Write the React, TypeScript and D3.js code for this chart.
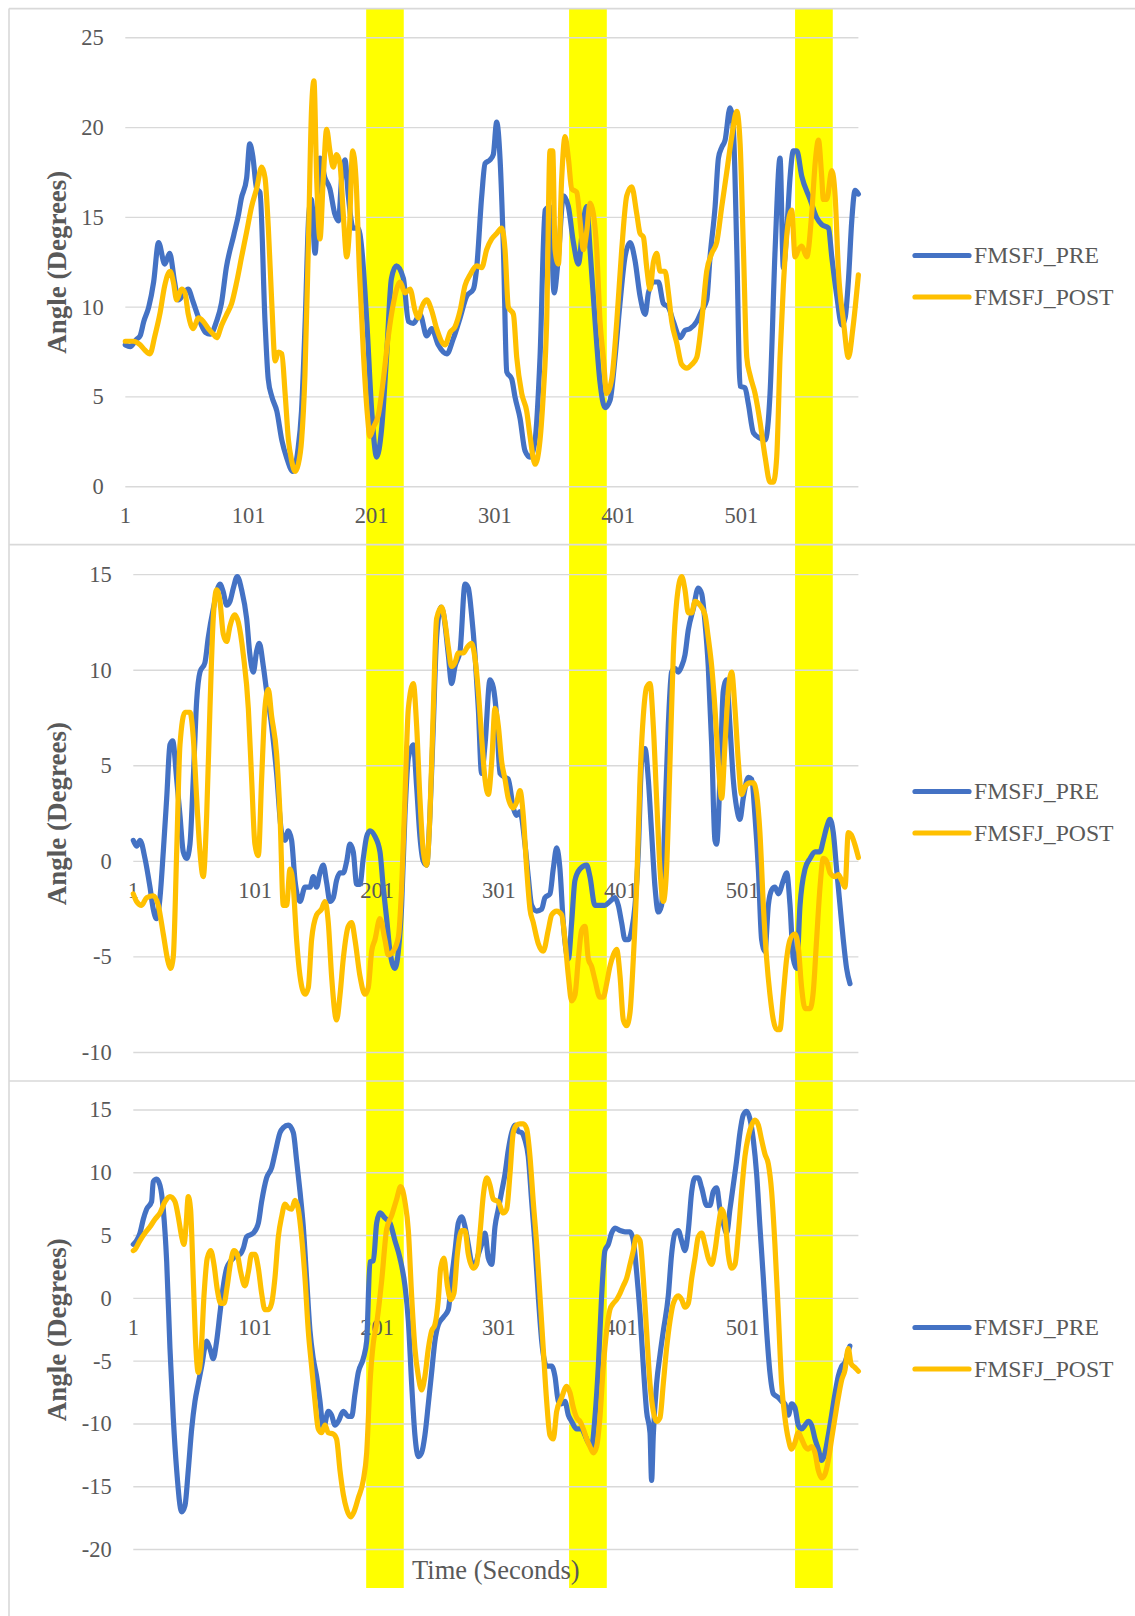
import * as d3 from 'd3';

// [second, angle] samples
const p1Pre = [
  [1, 7.9], [5, 7.8], [10, 8.2], [13, 8.4], [16, 9.2], [20, 10], [24, 11.4], [28, 13.6], [33, 12.4], [37, 13],
  [41, 11.4], [44, 10.4], [48, 10.7], [52, 11], [56, 10.3], [60, 9.5], [66, 8.6], [70, 8.5], [75, 9.2], [79, 10.2],
  [83, 12.2], [89, 14], [93, 15.2], [95, 16], [99.5, 17.2], [102, 19.1], [104.5, 18.4], [107.6, 16.6], [110.3, 16.4],
  [114.4, 9.2], [117, 6], [120, 5], [124, 4.2], [128, 2.6], [132, 1.6], [137, 0.85], [141, 2], [144, 4.2], [147, 9.2],
  [150, 15.2], [152, 16], [155, 13], [159, 18.3], [163, 17.2], [167, 16.6], [171, 15.2], [174, 14.8], [176.6, 17.2],
  [179.3, 18.2], [182, 16.2], [186, 14.4], [190, 14.4], [193, 13.2], [197, 9.2], [201, 4.2], [205, 1.65], [209, 3.2],
  [213, 7.2], [217, 11.6], [221, 12.3], [226.7, 11.6], [230.8, 9.2], [234.8, 9.1], [240.2, 9.6], [245.6, 8.4],
  [249.7, 8.8], [255, 7.9], [262, 7.4], [267, 8.2], [272.7, 9.4], [278, 10.6], [283.5, 11], [286.2, 12.2],
  [290.3, 16.2], [293, 18], [297, 18.2], [299.7, 18.5], [302.4, 20.3], [305.2, 18.2], [307.9, 13.2], [310.6, 6.4],
  [314.6, 6], [317.3, 5], [321.4, 3.8], [325.4, 2], [329.5, 1.65], [333.6, 2.6], [337.6, 7.2], [341.7, 15.4],
  [345.7, 15.6], [349, 10.8], [352.5, 12.8], [356.6, 16.2], [360.6, 15.6], [364.7, 13.6], [368.7, 12.4], [372.8, 14.8],
  [375.5, 15.6], [378.2, 13.2], [382.3, 9.2], [386.3, 5.8], [390.4, 4.4], [394.4, 4.8], [398.5, 7.2], [402.5, 10.2],
  [406.6, 12.8], [410.7, 13.6], [414.7, 12.6], [418.8, 10.6], [422.9, 9.6], [425.6, 10.8], [429.6, 11.4], [433.7, 11.4],
  [437.7, 10.2], [441.8, 10], [445.8, 9.2], [451.3, 8.3], [455.3, 8.7], [459.4, 8.8], [464.8, 9.2], [468.8, 9.8],
  [472.9, 10.4], [475.6, 12.8], [479.7, 15.6], [482.4, 18.3], [485.1, 18.9], [487.8, 19.3], [491.8, 21.1], [494.5, 19.9],
  [497.3, 13.2], [500, 5.6], [504, 5.5], [506.7, 4.6], [510.8, 3], [516.2, 2.7], [520.3, 2.6], [524.3, 5.2],
  [528.4, 13.2], [532.4, 18.3], [535.1, 12.2], [537.8, 14.2], [540.5, 17.2], [543.2, 18.7], [546, 18.7], [550, 17.3],
  [556.8, 16], [562, 15], [566.3, 14.6], [571.7, 14.4], [574.4, 12.8], [578.5, 10.6], [582.5, 9], [585.2, 9.4],
  [588, 11.6], [590.6, 14.8], [593.3, 16.5], [596, 16.3],
];

const p1Post = [
  [1, 8.1], [7.5, 8.1], [13, 7.9], [17, 7.6], [21, 7.4], [25, 8.4], [29, 9.6], [33, 11.2], [37.3, 12], [40, 11.4],
  [42.7, 10.4], [46.7, 11], [49.4, 10.8], [52.1, 9.6], [56.2, 8.8], [60.3, 9.4], [64.3, 9.2], [68.4, 8.8], [72.4, 8.5],
  [75.1, 8.3], [79.2, 9], [83.3, 9.6], [87.3, 10.2], [91.4, 11.4], [95.4, 12.8], [99.5, 14.2], [103.5, 15.6],
  [107.6, 16.6], [111.7, 17.8], [114.4, 17.2], [117.1, 14.4], [119.9, 10.2], [122.6, 7], [125.3, 7.5], [128, 7.4],
  [130.7, 5.2], [133.4, 2.6], [136, 1.45], [138.8, 0.85], [141.4, 1.25], [144.1, 2.6], [146.8, 6.2], [149.5, 13.2],
  [152.2, 21.1], [154.1, 22.6], [156.3, 17.2], [159, 13.8], [161.7, 17.2], [164.4, 19.9], [167.1, 18.7], [169.8, 17.8],
  [172.5, 18.5], [175.2, 18], [177.9, 15.2], [180.7, 12.8], [182.8, 14.2], [185.5, 18.7], [188.2, 17.2], [190.9, 12.2],
  [194.2, 7.5], [197.5, 4], [199.5, 2.8], [202.3, 3.3], [206.4, 4], [210.5, 6], [214.5, 8.4], [218.6, 10.2], [224, 11.4],
  [228, 10.8], [232.1, 11], [236.2, 9.8], [238.9, 9.4], [241.6, 10], [245.6, 10.4], [249.7, 9.8], [253.7, 8.8],
  [260.5, 7.9], [264.6, 8.6], [268.6, 8.9], [272.7, 9.8], [276.7, 11.2], [280.8, 11.8], [286.2, 12.3], [290.3, 12.2],
  [294.3, 13.2], [298.4, 13.8], [302.4, 14.1], [306.5, 14.4], [309.2, 13.2], [311.9, 10], [316, 9.6], [318.7, 7.2],
  [322.7, 5.2], [326.8, 4.2], [329.5, 2.8], [333.6, 1.25], [337.6, 2.6], [340.3, 5.2], [343, 9.2], [345.7, 18.7],
  [347.9, 18.7], [349.8, 13.2], [352.5, 12.4], [355.2, 17.2], [357.9, 19.5], [360.6, 18.3], [363.3, 16.6],
  [367.4, 16.4], [370.1, 14.8], [372.8, 13.2], [375.5, 14.2], [378.2, 15.8], [380.9, 15.2], [383.6, 13.2], [386.3, 9.2],
  [389, 7.2], [391.7, 5.2], [395.8, 6], [399.9, 9.2], [403.9, 13.2], [408, 16.2], [412, 16.7], [416.1, 15.2],
  [418.8, 14.1], [421.5, 13.9], [424.2, 12.2], [426.9, 11], [429.6, 12.5], [432.3, 13], [435, 12], [439.1, 12],
  [441.8, 10.8], [444.5, 9.2], [448.6, 8], [452.6, 6.8], [456.7, 6.6], [460.7, 6.8], [464.8, 7.2], [468.8, 9.2],
  [472.9, 12], [477, 13], [481, 13.6], [485.1, 15.6], [489.1, 17.5], [493.2, 19.5], [497.3, 20.9], [500, 19.1],
  [502.7, 13.2], [505.4, 7.2], [508.1, 6.2], [512.1, 5.2], [516.2, 3.6], [520.3, 1.65], [524.3, 0.25], [527, 0.25],
  [529.7, 1.65], [532.4, 7.2], [535.1, 11.2], [539.2, 14.8], [541.9, 15.4], [544.6, 12.8], [547.3, 13.2], [550, 13.4],
  [554.1, 12.8], [558.1, 15.2], [561, 18.1], [563.6, 19.3], [566, 17.5], [567.6, 16], [570.3, 16], [574.4, 17.6],
  [577.1, 16.2], [579.8, 12], [583.9, 9.2], [587.9, 7.2], [591.5, 8.8], [596, 11.8],
];

const p2Pre = [
  [1, 1.1], [3.7, 0.8], [6.5, 1.1], [10.6, 0.15], [14.7, -1.35], [17.4, -2.5], [20.1, -3], [22.9, -1.9], [25.6, 0.5],
  [28.4, 3.3], [31.1, 6.1], [33.3, 6.3], [36.6, 4.3], [39.3, 2.4], [42, 0.5], [44.8, 0.15], [47.5, 0.9], [50.2, 4.3],
  [53, 8.4], [55.7, 9.9], [59.8, 10.4], [62.5, 11.7], [66.6, 13.2], [72.1, 14.5], [74.8, 14.1], [77.6, 13.4],
  [80.3, 13.6], [83.1, 14.3], [86.3, 14.9], [89.9, 14.2], [94, 12.7], [96.7, 10.8], [99.5, 9.9], [102.2, 11],
  [104.4, 11.4], [107.7, 10.2], [110.4, 8.9], [114.5, 7.1], [118.6, 4.6], [122.7, 1.5], [125.5, 1.1], [128.2, 1.6],
  [130.9, 1.1], [133.7, -1], [137.8, -2.1], [141.9, -1.35], [146, -1.35], [148.7, -0.8], [151.4, -1.35], [154.2, -0.6],
  [156.9, -0.2], [159.6, -1.1], [162.4, -2.1], [165.1, -1.9], [167.8, -1], [170.6, -0.6], [173.3, -0.6], [176.1, 0],
  [178.8, 0.9], [181.5, 0.5], [184.3, -1.2], [187, -1.2], [189.7, 0.15], [192.5, 1.3], [195.2, 1.6], [199.3, 1.3],
  [203.4, 0.5], [206.1, -1.35], [208.9, -3], [211.6, -4.7], [215.7, -5.6], [218.5, -4.7], [221.2, -2.3], [223.9, 2.4],
  [226.7, 5.4], [230.8, 6.1], [233.5, 3.9], [236.2, 1.3], [239, 0], [241.7, -0.2], [244.4, 2.4], [247.2, 7.1],
  [249.9, 11.7], [253.5, 13.3], [255.4, 13], [259.5, 10.8], [262.2, 9.3], [265, 10.2], [269.1, 11], [273.2, 14.5],
  [275.9, 14.3], [278.6, 12.9], [281.4, 10.8], [284.1, 8], [286.8, 4.6], [289.6, 6.1], [293.7, 9.5], [296.4, 9.1],
  [299.1, 7.6], [301.9, 4.6], [306, 4.4], [308.7, 4.3], [312.8, 2.8], [315.6, 2.4], [318.3, 2.6], [322.4, 0.9],
  [325.1, -0.8], [327.9, -2.3], [332, -2.6], [336.1, -2.5], [338.8, -1.9], [342.9, -1.7], [345.6, -0.4], [348.4, 0.7],
  [351.1, -0.4], [353.8, -3.2], [358, -5.1], [360.7, -3.2], [363.4, -1], [367.5, -0.4], [373, -0.2], [375.7, -0.8],
  [379.8, -2.3], [383.9, -2.3], [388, -2.3], [392.1, -2.1], [396.3, -1.9], [399, -2.3], [401.7, -3.2], [404.5, -4.1],
  [407.2, -4.1], [409.9, -3.6], [412.7, -2.3], [415.4, 0.5], [418.1, 5.2], [420.9, 5.9], [423.6, 4.3], [426.3, 1.5],
  [429.1, -1.35], [431.8, -2.65], [434.5, -2.3], [437.3, 2.4], [440, 7.1], [442.7, 9.9], [445.5, 10.1], [448.2, 9.9],
  [450.9, 10.2], [453.7, 10.8], [456.4, 12.1], [460.5, 13.2], [464.6, 14.3], [467.4, 14], [470.1, 12.5], [472.8, 10.2],
  [475.6, 6.1], [478.3, 1.1], [479.7, 0.9], [482.4, 4.3], [485.1, 8.9], [487.9, 9.5], [490.6, 7.1], [493.3, 4.3],
  [496.1, 2.8], [498.8, 2.2], [501.5, 3.3], [505.7, 4.4], [508.4, 4.3], [511.1, 2.4], [513.9, -0.4], [516.6, -4.1],
  [519.3, -4.7], [522.1, -2.3], [524.8, -1.5], [527.5, -1.35], [530.3, -1.7], [534.4, -1], [537.1, -0.6], [539.9, -2.3],
  [542.6, -5.1], [545.3, -5.6], [548.1, -2.3], [552.2, -0.4], [556.3, 0.15], [560.4, 0.5], [564.5, 0.5], [567.2, 1.1],
  [570, 1.8], [572.7, 2.2], [575.4, 1.5], [578.1, -0.4], [580.9, -2.3], [583.6, -4.1], [586.3, -5.6], [589.1, -6.4],
];

const p2Post = [
  [1, -1.7], [3.7, -2.1], [7.8, -2.3], [11.9, -1.9], [17.4, -1.8], [21.5, -2.3], [25.6, -3.8], [29.7, -5.3],
  [31.6, -5.6], [33.8, -5], [36.6, 0.5], [39.3, 6.1], [43.4, 7.8], [47.5, 7.8], [50.2, 6.5], [53, 3.3], [55.7, 0.5],
  [58.4, -0.8], [61.2, 2.4], [63.9, 8], [66.6, 12.7], [69.4, 14.2], [72.1, 13.6], [74.8, 11.9], [77.6, 11.5],
  [80.3, 12.3], [84.4, 12.9], [87.2, 12.5], [91.3, 10.8], [95.4, 8], [98.1, 4.3], [100.8, 0.9], [103.6, 0.3],
  [106.3, 4.3], [109, 8], [111.8, 9], [114.5, 7.6], [118.6, 5.6], [121.4, 2.4], [124.1, -2.3], [126.8, -2.3],
  [129.6, -0.4], [132.3, -1.35], [135, -4.1], [137.8, -6], [141.9, -6.95], [144.6, -6.6], [147.3, -4.1], [151.4, -2.8],
  [155.5, -2.5], [158.3, -2.1], [161, -3.2], [163.7, -6], [167.8, -8.3], [170.6, -7], [173.3, -5.1], [177.4, -3.4],
  [180.2, -3.2], [182.9, -4.1], [187, -6], [191.1, -6.95], [193.8, -6.6], [196.6, -4.7], [199.3, -4.1], [203.4, -3],
  [207.5, -4.1], [210.2, -4.9], [214.3, -4.7], [218.5, -3.96], [221.2, -1.35], [223.9, 3.3], [226.7, 8], [230.8, 9.3],
  [233.5, 7.1], [236.2, 3.3], [239, 0.5], [241.7, -0.2], [244.4, 2.4], [247.2, 8], [249.9, 12.7], [254, 13.3],
  [256.8, 12.5], [259.5, 11.2], [262.2, 10.2], [265, 10.4], [267.7, 10.9], [271.8, 10.9], [275, 11.2], [278.6, 11.4],
  [281.4, 10.6], [284.1, 8.9], [286.8, 6.5], [289.6, 4.3], [292.3, 3.5], [295.1, 5.2], [297.8, 8], [300.5, 7.1],
  [303.3, 5.2], [306, 4.3], [308.7, 3.3], [312.8, 2.8], [315.6, 3.1], [318.3, 3.7], [321, 2.4], [323.8, -0.4],
  [326.5, -2.5], [329.2, -3.2], [333.3, -4.3], [337.4, -4.7], [341.5, -3.6], [344.3, -2.8], [348.4, -2.6],
  [352.5, -2.8], [355.2, -4.1], [358, -6], [360.7, -7.3], [363.4, -7], [366.2, -5.1], [368.9, -3.6], [371.6, -3.4],
  [374.4, -5.1], [377.1, -5.5], [379.8, -6.2], [383.9, -7.1], [386.7, -7.1], [389.4, -6.4], [392.1, -5.5],
  [394.9, -4.9], [397.6, -4.6], [400.4, -6], [403.1, -8.3], [405.8, -8.6], [408.6, -7.9], [411.3, -5.1], [414, -1.35],
  [416.8, 4.3], [419.5, 7.6], [422.2, 9.1], [425, 9.3], [427.7, 7.1], [430.4, 3.3], [433.2, -0.4], [435.9, -2.1],
  [438.6, -0.4], [441.4, 5.2], [444.1, 10.8], [446.9, 13.6], [451, 14.9], [453.7, 14.2], [456.4, 13], [459.2, 13],
  [461.9, 13.6], [466, 13.4], [470.1, 12.9], [472.8, 11.7], [475.6, 10.2], [478.3, 8], [481, 5.2], [483.8, 3.3],
  [486.5, 6.1], [489.2, 8.9], [492, 9.9], [494.7, 8], [497.5, 5.2], [500.2, 3.5], [502.9, 3.9], [507, 4.1],
  [509.8, 4.1], [512.5, 3.5], [515.2, 1.5], [518, -2.3], [520.7, -5.1], [523.4, -6.95], [526.2, -8.3], [528.9, -8.8],
  [531.6, -8.8], [534.4, -6.95], [537.1, -5.1], [539.9, -4.1], [543.9, -3.8], [546.7, -4.5], [549.4, -6.6],
  [552.2, -7.7], [556.3, -7.7], [559, -6.8], [561.7, -4.1], [564.5, -1.35], [567.2, 0.15], [570, 0], [572.7, -0.6],
  [576.8, -0.8], [579.5, -0.7], [582.3, -1], [585, -1.35], [587.7, 1.5], [590, 1.4], [593, 0.9], [596, 0.2],
];

const p3Pre = [
  [1, 4.3], [3.7, 4.6], [6.5, 5.2], [9.2, 6.3], [11.9, 7.1], [16, 7.7], [17.4, 9.3], [20.1, 9.5], [22.9, 9],
  [25.6, 7.1], [28.4, 2.9], [31.1, -4], [33.8, -9.5], [36.6, -13.7], [40.7, -17], [43.4, -16.5], [46.1, -13.7],
  [48.9, -10.4], [51.6, -8.2], [54.3, -6.8], [57.1, -5.4], [61.2, -3.4], [63.9, -4], [66.6, -4.8], [69.4, -3.4],
  [72.1, -1.2], [74.9, 1], [77.6, 2.4], [80.3, 2.9], [83.1, 3.2], [85.8, 3.5], [88.5, 3.5], [91.3, 4], [94, 4.9],
  [99.5, 5.2], [103.6, 6], [106.3, 7.7], [110.4, 9.6], [114.5, 10.4], [117.2, 11.5], [121.4, 13.2], [124.1, 13.6],
  [128.2, 13.8], [132.3, 13.2], [135, 11], [137.8, 8.5], [140.5, 5.7], [143.2, 1.6], [146, -2.6], [148.7, -4.8],
  [151.4, -6.2], [154.2, -8.2], [156.9, -10.4], [161, -9], [163.7, -9.3], [166.5, -10.1], [169.2, -9.8], [173.3, -9],
  [177.4, -9.4], [180.2, -9.4], [182.9, -7.6], [185.6, -5.9], [189.7, -4.8], [192.5, -3.4], [195.2, 2.9], [198, 3],
  [200.7, 6], [203.4, 6.8], [207.5, 6.4], [211.6, 6], [215.7, 4.6], [219.8, 3.2], [223.9, 1], [226.7, -1.8],
  [229.4, -6.8], [232.1, -10.9], [234.9, -12.6], [237.6, -12.3], [240.3, -10.9], [243.1, -8.4], [245.8, -5.9],
  [248.5, -3.4], [251.3, -2.1], [255.4, -1.5], [259.5, -0.9], [262.2, 1.6], [265, 3.8], [267.7, 6], [270.4, 6.5],
  [273.2, 5.7], [275.9, 4.3], [278.6, 2.9], [281.4, 2.7], [284.1, 3.5], [286.8, 4.3], [289.6, 5.2], [292.3, 3.2],
  [295.1, 2.7], [297.8, 5.7], [300.5, 7.1], [303.3, 8.5], [306, 9.9], [308.7, 11.8], [311.5, 13.2], [314.2, 13.8],
  [316.9, 13.3], [319.7, 13.2], [322.4, 12.6], [325.1, 11.3], [327.9, 7.7], [330.6, 4.3], [333.3, 0.2], [336.1, -3.4],
  [340.2, -5.4], [344.3, -5.4], [347, -6.2], [349.8, -8.2], [352.5, -8.4], [355.2, -8.2], [358, -9.3], [360.7, -9.8],
  [364.8, -10.4], [368.9, -10.4], [371.6, -10.9], [374.4, -11.5], [377.1, -11.8], [379.8, -9.5], [382.6, -5.4],
  [385.3, 0.2], [388, 3.8], [390.8, 4.3], [393.5, 5.2], [396.3, 5.6], [400.4, 5.4], [404.5, 5.3], [408.6, 5.3],
  [411.3, 4.6], [414, 2.1], [416.8, -1.2], [419.5, -5.4], [422.2, -9], [425, -10.7], [426.3, -14.5], [427.7, -10.9],
  [430.4, -6.8], [433.2, -4.5], [435.9, -2.6], [440, 0.2], [442.7, 3.5], [445.5, 5.2], [448.2, 5.4], [450.9, 4.6],
  [453.7, 3.8], [456.4, 5.4], [459.2, 8.5], [461.9, 9.6], [464.6, 9.6], [467.4, 8.8], [471.5, 7.4], [474.2, 7.4],
  [476.9, 8.5], [479.7, 8.8], [482.4, 7.1], [485.1, 6], [487.9, 5.2], [490.6, 7.1], [493.3, 9], [496.1, 11],
  [498.8, 13.2], [501.5, 14.6], [504.3, 14.9], [507, 14.3], [509.8, 12.6], [512.5, 9.9], [515.2, 5.7], [518, 1.6],
  [520.7, -2.6], [523.4, -5.9], [526.2, -7.6], [530.3, -7.9], [533, -8.2], [535.7, -8.4], [538.5, -9.3], [541.2, -8.4],
  [543.9, -8.7], [546.7, -10.1], [549.4, -10.4], [552.2, -10.1], [554.9, -9.8], [557.6, -10.1], [560.4, -11.2],
  [563.1, -12], [565.8, -12.9], [568.6, -12.3], [571.3, -10.9], [574, -9.3], [576.8, -7.6], [579.5, -6.2],
  [582.3, -5.4], [585, -5.1], [587.7, -4.2], [589, -3.8],
];

const p3Post = [
  [1, 3.8], [2.4, 3.9], [6.5, 4.6], [10.6, 5.2], [14.7, 5.7], [18.8, 6.3], [22.9, 6.8], [27, 7.7], [31.1, 8.1],
  [35.2, 7.7], [37.9, 6.5], [40.7, 4.9], [42.6, 4.3], [44.2, 5.7], [46.1, 8.1], [48, 7.1], [50.2, 1.6], [52.4, -4],
  [54.3, -5.9], [56.5, -4.5], [59, 0.2], [61.7, 3.2], [64.5, 3.8], [67.2, 2.7], [69.9, 0.7], [72.7, -0.4], [75.4, -0.4],
  [78.1, 1], [80.9, 2.9], [83.6, 3.8], [86.3, 3.5], [89.1, 2.1], [92.6, 1], [95.4, 2.1], [98.1, 3.5], [100.8, 3.5],
  [103.6, 2.4], [106.3, 0.4], [109, -0.9], [111.8, -0.9], [114.5, -0.4], [117.2, 1.6], [120, 4.9], [122.7, 6.5],
  [125.5, 7.5], [128.2, 7.2], [130.9, 7.1], [133.7, 7.8], [136.4, 7.1], [139.1, 4.9], [141.9, 1.6], [144.6, -2.6],
  [147.3, -5.4], [150.1, -8.2], [152.8, -10.4], [155.5, -10.7], [158.3, -10.1], [161, -10.7], [165.1, -10.8],
  [167.8, -11.2], [170.6, -13.7], [173.3, -15.6], [176.1, -16.8], [179.3, -17.4], [182.1, -17], [185.6, -15.9],
  [189.7, -14.5], [192.5, -12.3], [195.2, -6.8], [197.9, -3.6], [200.7, -2], [204.8, 1.4], [208.9, 5.5], [213, 6.6],
  [217.1, 7.9], [220.4, 8.9], [223.9, 7.7], [226.7, 5.4], [229.4, 0.2], [232.1, -4], [234.9, -6.2], [237.6, -7.3],
  [240.3, -6.2], [243.1, -4], [245.8, -2.6], [248.5, -2.1], [251.3, -0.1], [253.2, 2.4], [255.9, 3.2], [258.7, 1],
  [261.4, -0.1], [264.1, 0.4], [266.9, 3.5], [270.4, 5.4], [273.2, 5.4], [275.9, 3.5], [280, 2.4], [282.7, 2.7],
  [285.5, 5.2], [288.2, 8.2], [291, 9.6], [293.7, 9], [296.4, 7.9], [300.5, 7.7], [304.6, 6.8], [307.4, 7.1],
  [310.1, 9.9], [312.8, 13.2], [315.6, 13.8], [318.3, 13.9], [321, 13.9], [323.8, 13.5], [326.5, 11.3], [329.2, 7.7],
  [332, 4.3], [334.7, 0.2], [337.4, -4], [340.2, -8.2], [342.9, -10.9], [345.6, -11.2], [348.4, -9], [352.5, -7.9],
  [356.6, -7], [359.3, -7.5], [362.1, -8.7], [364.8, -9.5], [367.5, -9.8], [370.3, -10.4], [373, -11.2],
  [375.7, -11.8], [378.5, -12.3], [381.2, -11.8], [383.9, -9.5], [386.7, -5.4], [389.4, -2.6], [392.1, -0.9],
  [394.9, -0.4], [397.6, -0.1], [400.4, 0.4], [403.1, 1], [405.8, 1.6], [408.6, 2.7], [411.3, 3.8], [414, 4.9],
  [416.8, 4.6], [419.5, 1.6], [422.2, -2.6], [425, -6.8], [427.7, -9], [430.4, -9.8], [433.2, -9.5], [435.9, -6.8],
  [438.6, -4], [441.4, -1.8], [444.1, -0.4], [448.2, 0.2], [451, -0.1], [453.7, -0.7], [456.4, -0.4], [459.2, 1.6],
  [461.9, 3.2], [464.6, 4.9], [467.4, 5.2], [470.1, 4.3], [472.8, 3.2], [475.6, 2.7], [478.3, 3.8], [481, 5.7],
  [483.8, 7.1], [486.5, 6.3], [489.2, 3.5], [492, 2.4], [494.7, 2.7], [497.5, 5.2], [500.2, 8.5], [502.9, 11.3],
  [505.7, 12.9], [508.4, 13.8], [511.1, 14.2], [513.9, 13.8], [516.6, 12.6], [519.3, 11.5], [522.1, 10.7],
  [524.8, 8.5], [527.5, 4.3], [530.3, -1.2], [533, -6.8], [535.7, -9.5], [538.5, -11.2], [541.2, -12], [543.9, -11.5],
  [546.7, -10.7], [549.4, -11.2], [552.2, -11.8], [554.9, -12], [557.6, -11.8], [560.4, -12.3], [563.1, -13.7],
  [565.8, -14.3], [568.6, -14], [571.3, -12.9], [574, -11.2], [576.8, -9.5], [579.5, -7.9], [582.3, -6.5],
  [585, -5.7], [587.7, -4], [590, -5.2], [593, -5.5], [596, -5.8],
];

const seriesNames = ['FMSFJ_PRE', 'FMSFJ_POST'];
const categoryTicks = [1, 101, 201, 301, 401, 501];
const p1Ticks = [0, 5, 10, 15, 20, 25];
const p2Ticks = [-10, -5, 0, 5, 10, 15];
const p3Ticks = [-20, -15, -10, -5, 0, 5, 10, 15];
// highlighted intervals (seconds, on the top panel's time axis)
const bands = [[196.5, 227], [361.2, 391.8], [544.6, 575.2]];

const BLUE = '#4472C4';
const ORANGE = '#FFC000';
const TEXT = '#595959';
const GRID = '#D9D9D9';
const FONT = '"Liberation Serif", "Times New Roman", serif';
const LINE_W = 5.2;

const panels = [
  { pre: p1Pre, post: p1Post, ticks: p1Ticks, xr: [125.3, 858.4], yr: [486.7, 37.8], legendY: 255.5, xTitle: false },
  { pre: p2Pre, post: p2Post, ticks: p2Ticks, xr: [133.3, 858.4], yr: [1052.5, 574.6], legendY: 791.5, xTitle: false },
  { pre: p3Pre, post: p3Post, ticks: p3Ticks, xr: [133.3, 858.4], yr: [1549.5, 1110], legendY: 1327.5, xTitle: true },
];

const Panel = ({ cfg }) => {
  const x = d3.scaleLinear().domain([1, 596]).range(cfg.xr);
  const y = d3.scaleLinear().domain(d3.extent(cfg.ticks)).range(cfg.yr);
  const line = d3.line().x((d) => x(d[0])).y((d) => y(d[1])).curve(d3.curveMonotoneX);
  const [left, right] = cfg.xr;
  const midY = (cfg.yr[0] + cfg.yr[1]) / 2;
  return (
    <g>
      {cfg.ticks.map((t) => (
        <g key={t}>
          <line x1={left} x2={right} y1={y(t)} y2={y(t)} stroke={GRID} strokeWidth={1.4} />
          <text x={left - 21.5} y={y(t) + 7.4} textAnchor="end" fontSize={22.5} fill={TEXT} fontFamily={FONT}>{t}</text>
        </g>
      ))}
      {categoryTicks.map((c) => (
        <text key={c} x={x(c)} y={y(0) + 36.5} textAnchor="middle" fontSize={22.5} fill={TEXT} fontFamily={FONT}>{c}</text>
      ))}
      <text transform={`translate(66,${midY}) rotate(-90)`} textAnchor="middle" fontSize={27} fontWeight="bold" fill={TEXT} fontFamily={FONT}>
        Angle (Degrees)
      </text>
      {cfg.xTitle && (
        <text x={(left + right) / 2} y={1579} textAnchor="middle" fontSize={26.5} fill={TEXT} fontFamily={FONT}>Time (Seconds)</text>
      )}
      <path d={line(cfg.pre)} fill="none" stroke={BLUE} strokeWidth={LINE_W} strokeLinejoin="round" strokeLinecap="round" />
      <path d={line(cfg.post)} fill="none" stroke={ORANGE} strokeWidth={LINE_W} strokeLinejoin="round" strokeLinecap="round" />
      {seriesNames.map((name, i) => (
        <g key={name} transform={`translate(0,${cfg.legendY + i * 41.5})`}>
          <line x1={915} x2={969} y1={0} y2={0} stroke={i === 0 ? BLUE : ORANGE} strokeWidth={LINE_W} strokeLinecap="round" />
          <text x={974} y={7.8} fontSize={23.7} fill={TEXT} fontFamily={FONT}>{name}</text>
        </g>
      ))}
    </g>
  );
};

export default function App() {
  const xTop = d3.scaleLinear().domain([1, 596]).range(panels[0].xr);
  return (
    <svg width={1135} height={1616} style={{ position: 'absolute', left: 0, top: 0, background: '#fff' }}>
      <rect x={0} y={0} width={1135} height={1616} fill="#fff" />
      {bands.map(([a, b], i) => (
        <rect key={i} x={xTop(a)} y={9} width={xTop(b) - xTop(a)} height={1579} fill="#FFFF00" />
      ))}
      <line x1={9} x2={9} y1={8.6} y2={1616} stroke={GRID} strokeWidth={1.6} />
      {[8.6, 544.6, 1081].map((yy) => (
        <line key={yy} x1={9} x2={1135} y1={yy} y2={yy} stroke={GRID} strokeWidth={1.6} />
      ))}
      {panels.map((p, i) => <Panel key={i} cfg={p} />)}
    </svg>
  );
}
